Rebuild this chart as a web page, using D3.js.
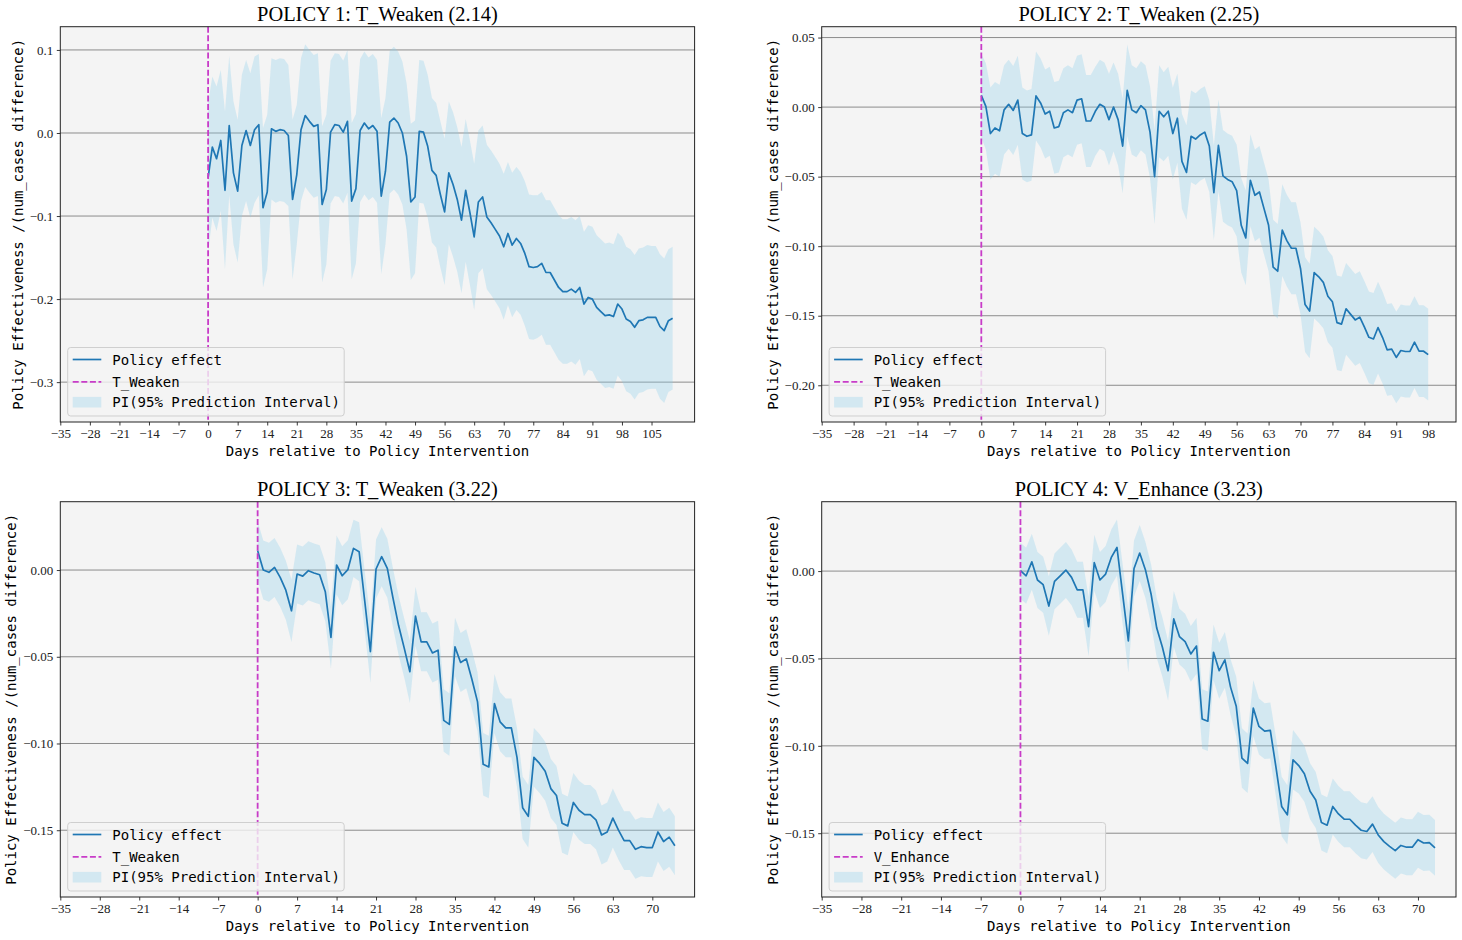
<!DOCTYPE html>
<html>
<head>
<meta charset="utf-8">
<script src="https://cdn.jsdelivr.net/npm/d3@7"></script>
<style>
  body { margin: 0; background: #ffffff; }
</style>
</head>
<body>
<div id="chart"></div>
<script>
// ---- data ----
const panelTitles = [
  'POLICY 1: T_Weaken (2.14)',
  'POLICY 2: T_Weaken (2.25)',
  'POLICY 3: T_Weaken (3.22)',
  'POLICY 4: V_Enhance (3.23)'
]
const policyNames = ['T_Weaken', 'T_Weaken', 'T_Weaken', 'V_Enhance']

// policy effect, one value per day starting at day 0
const p1Effect = [
  -0.054, -0.017, -0.031, -0.009, -0.069, 0.009, -0.048, -0.070, -0.015, 0.003,
  -0.015, 0.004, 0.010, -0.090, -0.071, 0.005, 0.002, 0.004, 0.003, -0.003,
  -0.080, -0.050, 0.004, 0.021, 0.014, 0.008, 0.010, -0.086, -0.068, 0.001,
  0.010, 0.009, 0.001, 0.014, -0.082, -0.067, 0.003, 0.012, 0.005, 0.009,
  0.002, -0.076, -0.046, 0.013, 0.018, 0.012, 0.000, -0.028, -0.083, -0.077,
  0.002, 0.001, -0.016, -0.045, -0.051, -0.074, -0.095, -0.048, -0.062, -0.080,
  -0.105, -0.069, -0.096, -0.125, -0.083, -0.077, -0.101, -0.108, -0.116, -0.124,
  -0.137, -0.121, -0.135, -0.127, -0.133, -0.145, -0.161, -0.162, -0.161, -0.157,
  -0.168, -0.168, -0.177, -0.186, -0.191, -0.191, -0.188, -0.192, -0.186, -0.206,
  -0.198, -0.200, -0.210, -0.215, -0.220, -0.219, -0.221, -0.206, -0.212, -0.224,
  -0.227, -0.234, -0.226, -0.225, -0.222, -0.222, -0.222, -0.233, -0.238, -0.226,
  -0.223
]
// half width of the 95% prediction interval
const p1Half = [
  0.090, 0.085, 0.087, 0.085, 0.095, 0.084, 0.086, 0.086, 0.085, 0.085, 0.087, 0.088, 0.085, 0.096, 0.093,
  0.085, 0.086, 0.086, 0.086, 0.085, 0.096, 0.084, 0.086, 0.086, 0.086, 0.086, 0.086, 0.094, 0.090,
  0.086, 0.086, 0.086, 0.086, 0.086, 0.094, 0.090, 0.086, 0.086, 0.086, 0.086, 0.086, 0.094, 0.088,
  0.086, 0.086, 0.086, 0.086, 0.088, 0.094, 0.092, 0.086, 0.086, 0.086, 0.087, 0.087, 0.088, 0.088,
  0.086, 0.087, 0.087, 0.088, 0.086, 0.087, 0.088, 0.086, 0.086, 0.087, 0.087, 0.087, 0.087, 0.088,
  0.086, 0.087, 0.086, 0.086, 0.087, 0.087, 0.087, 0.086, 0.086, 0.087, 0.087, 0.087, 0.087, 0.087,
  0.087, 0.087, 0.087, 0.086, 0.087, 0.087, 0.087, 0.087, 0.087, 0.087, 0.087, 0.087, 0.086, 0.087,
  0.087, 0.087, 0.087, 0.087, 0.087, 0.087, 0.086, 0.086, 0.087, 0.087, 0.086, 0.086
]

const p2Effect = [
  0.0084, 0.0005, -0.019, -0.015, -0.017, -0.002, 0.002, -0.0024, 0.005, -0.019,
  -0.021, -0.020, 0.008, 0.003, -0.005, -0.003, -0.015, -0.014, -0.004, -0.002,
  -0.004, 0.005, 0.006, -0.010, -0.010, -0.003, 0.002, 0.000, -0.009, 0.000,
  -0.009, -0.028, 0.012, -0.002, -0.004, 0.001, -0.002, -0.018, -0.050, -0.003,
  -0.007, -0.003, -0.019, -0.008, -0.039, -0.047, -0.021, -0.023, -0.020, -0.018,
  -0.028, -0.0615, -0.0275, -0.0495, -0.052, -0.0536, -0.060, -0.085, -0.094, -0.0526,
  -0.0634, -0.061, -0.073, -0.085, -0.115, -0.118, -0.0885, -0.096, -0.1015, -0.1015,
  -0.116, -0.142, -0.1466, -0.119, -0.122, -0.126, -0.136, -0.140, -0.155, -0.156,
  -0.145, -0.149, -0.153, -0.151, -0.158, -0.1655, -0.1667, -0.1585, -0.1657, -0.1745,
  -0.174, -0.180, -0.175, -0.1757, -0.1757, -0.169, -0.1755, -0.1755, -0.178
]
const p2Half = [
  0.030, 0.031, 0.033, 0.033, 0.033, 0.032, 0.032, 0.032, 0.032, 0.033,
  0.033, 0.033, 0.032, 0.032, 0.032, 0.032, 0.033, 0.033, 0.032, 0.032,
  0.032, 0.032, 0.032, 0.033, 0.033, 0.032, 0.032, 0.032, 0.033, 0.032,
  0.033, 0.034, 0.033, 0.032, 0.032, 0.032, 0.032, 0.033, 0.034, 0.033,
  0.032, 0.032, 0.033, 0.032, 0.034, 0.034, 0.033, 0.033, 0.033, 0.033,
  0.033, 0.034, 0.033, 0.033, 0.033, 0.033, 0.033, 0.034, 0.034, 0.033,
  0.033, 0.033, 0.033, 0.033, 0.034, 0.034, 0.033, 0.033, 0.033, 0.033,
  0.033, 0.034, 0.034, 0.033, 0.033, 0.033, 0.033, 0.033, 0.034, 0.034,
  0.033, 0.033, 0.033, 0.033, 0.033, 0.033, 0.033, 0.033, 0.033, 0.033,
  0.033, 0.033, 0.033, 0.033, 0.033, 0.033, 0.033, 0.033, 0.033
]

const p3Effect = [
  0.0112, 0.000, -0.0013, 0.0015, -0.0042, -0.0116, -0.0235, -0.0023, -0.0035, -0.0004,
  -0.0017, -0.0027, -0.0125, -0.0389, 0.0029, -0.0033, 0.0002, 0.0125, 0.0106, -0.018,
  -0.047, 0.0006, 0.0077, 0.001, -0.016, -0.032, -0.045, -0.0586, -0.0266, -0.0414,
  -0.0414, -0.0478, -0.0462, -0.0867, -0.089, -0.0443, -0.0533, -0.0512, -0.063, -0.076,
  -0.112, -0.1135, -0.077, -0.0875, -0.091, -0.091, -0.108, -0.137, -0.142, -0.108,
  -0.1115, -0.116, -0.126, -0.130, -0.146, -0.1475, -0.134, -0.1385, -0.141, -0.141,
  -0.144, -0.1527, -0.151, -0.143, -0.150, -0.156, -0.156, -0.161, -0.1595, -0.160,
  -0.160, -0.151, -0.1565, -0.154, -0.159
]
const p3Half = [
  0.017, 0.017, 0.017, 0.017, 0.017, 0.017, 0.018, 0.017, 0.017, 0.017,
  0.017, 0.017, 0.017, 0.018, 0.017, 0.017, 0.017, 0.0165, 0.017, 0.017,
  0.018, 0.017, 0.017, 0.017, 0.017, 0.017, 0.017, 0.018, 0.017, 0.017,
  0.017, 0.017, 0.017, 0.018, 0.018, 0.017, 0.017, 0.017, 0.017, 0.017,
  0.018, 0.018, 0.017, 0.017, 0.017, 0.017, 0.017, 0.018, 0.018, 0.017,
  0.017, 0.017, 0.017, 0.017, 0.017, 0.017, 0.017, 0.017, 0.017, 0.017,
  0.017, 0.017, 0.017, 0.017, 0.017, 0.017, 0.017, 0.017, 0.017, 0.017,
  0.017, 0.017, 0.017, 0.017, 0.017
]

const p4Effect = [
  0.0002, -0.0027, 0.0053, -0.0051, -0.0078, -0.020, -0.0059, -0.0027, 0.0006, -0.0036,
  -0.0107, -0.0107, -0.0318, 0.0048, -0.0051, -0.0017, 0.0078, 0.0135, -0.0133, -0.040,
  0.0015, 0.0103, 0.0008, -0.0131, -0.0326, -0.0436, -0.057, -0.0274, -0.0375, -0.0404,
  -0.0474, -0.0429, -0.0846, -0.0859, -0.0465, -0.057, -0.0508, -0.0664, -0.0774, -0.107,
  -0.110, -0.0784, -0.0889, -0.0916, -0.0912, -0.1123, -0.1347, -0.1395, -0.108, -0.1113,
  -0.116, -0.126, -0.131, -0.1439, -0.1454, -0.1347, -0.139, -0.142, -0.142, -0.1454,
  -0.1483, -0.149, -0.1448, -0.151, -0.1548, -0.1575, -0.160, -0.157, -0.158, -0.158,
  -0.1537, -0.1556, -0.1554, -0.1584
]
const p4Half = [
  0.016, 0.016, 0.016, 0.016, 0.016, 0.017, 0.016, 0.016, 0.016, 0.016,
  0.016, 0.016, 0.017, 0.016, 0.016, 0.016, 0.016, 0.016, 0.017, 0.018,
  0.016, 0.016, 0.016, 0.017, 0.017, 0.017, 0.017, 0.016, 0.016, 0.016,
  0.016, 0.016, 0.017, 0.017, 0.016, 0.016, 0.016, 0.016, 0.017, 0.017,
  0.017, 0.016, 0.016, 0.016, 0.016, 0.017, 0.017, 0.017, 0.017, 0.016,
  0.016, 0.016, 0.016, 0.016, 0.016, 0.016, 0.016, 0.016, 0.016, 0.016,
  0.016, 0.016, 0.016, 0.016, 0.016, 0.016, 0.016, 0.016, 0.016, 0.016,
  0.016, 0.016, 0.016, 0.016
]

// axis limits and tick labels
const xMinDay = -35
const xTickStep = 7
const xMaxDays = [115.2, 104.1, 77.5, 76.7]
const yLimits = [[-0.348, 0.128], [-0.2264, 0.0578], [-0.1885, 0.0394], [-0.1865, 0.0397]]
const p1YTicks = [-0.3, -0.2, -0.1, 0.0, 0.1]
const p2YTicks = [-0.20, -0.15, -0.10, -0.05, 0.00, 0.05]
const p3YTicks = [-0.15, -0.10, -0.05, 0.00]
const p4YTicks = [-0.15, -0.10, -0.05, 0.00]
const yTickFormats = ['.1f', '.2f', '.2f', '.2f']

const legendLabels = ['Policy effect', null, 'PI(95% Prediction Interval)']

// ---- layout ----
const W = 1462
const H = 940
const colX = [60.3, 821.7]
const rowY = [26.7, 501.7]
const plotW = 634.3
const plotH = 395.3

const lineColor = '#1f77b4'
const vlineColor = '#c83cc8'
const bandColor = 'skyblue'
const serif = '"Liberation Serif", "Times New Roman", serif'
const mono = '"DejaVu Sans Mono", monospace'

const svg = d3.select('#chart')
  .append('svg')
  .attr('width', W)
  .attr('height', H)

const panels = [
  { effect: p1Effect, half: p1Half, yTicks: p1YTicks },
  { effect: p2Effect, half: p2Half, yTicks: p2YTicks },
  { effect: p3Effect, half: p3Half, yTicks: p3YTicks },
  { effect: p4Effect, half: p4Half, yTicks: p4YTicks }
].map((p, i) => ({
  ...p,
  title: panelTitles[i],
  policy: policyNames[i],
  xMax: xMaxDays[i],
  yLim: yLimits[i],
  fmt: yTickFormats[i],
  left: colX[i % 2],
  top: rowY[Math.floor(i / 2)]
}))

panels.forEach(p => drawPanel(p))

function drawPanel(p) {
  const g = svg.append('g')
    .attr('class', 'panel')
    .attr('transform', `translate(${p.left}, ${p.top})`)

  const x = d3.scaleLinear().domain([xMinDay, p.xMax]).range([0, plotW])
  const y = d3.scaleLinear().domain(p.yLim).range([plotH, 0])

  const rows = p.effect.map((v, day) => ({
    day,
    value: v,
    lo: v - p.half[day],
    hi: v + p.half[day]
  }))
  const lastDay = rows.length - 1

  // background
  g.append('rect')
    .attr('width', plotW)
    .attr('height', plotH)
    .attr('fill', '#f4f4f4')

  // horizontal grid
  g.append('g')
    .selectAll('line.grid')
    .data(p.yTicks)
    .enter()
    .append('line')
    .attr('class', 'grid')
    .attr('x1', 0)
    .attr('x2', plotW)
    .attr('y1', d => y(d))
    .attr('y2', d => y(d))
    .attr('stroke', '#8c8c8c')
    .attr('stroke-width', 1)

  // prediction interval
  const area = d3.area()
    .x(d => x(d.day))
    .y0(d => y(d.lo))
    .y1(d => y(d.hi))
  g.append('path')
    .datum(rows)
    .attr('d', area)
    .attr('fill', bandColor)
    .attr('fill-opacity', 0.3)

  // policy effect line
  const line = d3.line()
    .x(d => x(d.day))
    .y(d => y(d.value))
  g.append('path')
    .datum(rows)
    .attr('d', line)
    .attr('fill', 'none')
    .attr('stroke', lineColor)
    .attr('stroke-width', 1.7)
    .attr('stroke-linejoin', 'round')

  // intervention day
  g.append('line')
    .attr('x1', x(0))
    .attr('x2', x(0))
    .attr('y1', 0)
    .attr('y2', plotH)
    .attr('stroke', vlineColor)
    .attr('stroke-width', 1.8)
    .attr('stroke-dasharray', '6,2.6')

  // axes (ticks every week, up to the last day with data)
  const xAxis = d3.axisBottom(x)
    .tickValues(d3.range(xMinDay, lastDay + 1, xTickStep))
    .tickFormat(d3.format('d'))
    .tickSize(3.5)
    .tickPadding(3.5)
  const gx = g.append('g')
    .attr('transform', `translate(0, ${plotH})`)
    .call(xAxis)

  const yAxis = d3.axisLeft(y)
    .tickValues(p.yTicks)
    .tickFormat(d3.format(p.fmt))
    .tickSize(3.5)
    .tickPadding(3.5)
  const gy = g.append('g').call(yAxis)

  ;[gx, gy].forEach(a => {
    a.select('.domain').remove()
    a.selectAll('.tick line').attr('stroke', '#222').attr('stroke-width', 0.9)
    a.selectAll('.tick text')
      .attr('font-family', serif)
      .attr('font-size', '13px')
      .attr('fill', '#222')
  })

  // frame
  g.append('rect')
    .attr('width', plotW)
    .attr('height', plotH)
    .attr('fill', 'none')
    .attr('stroke', '#222')
    .attr('stroke-width', 1)

  // title
  g.append('text')
    .attr('x', plotW / 2)
    .attr('y', -6)
    .attr('text-anchor', 'middle')
    .attr('font-family', serif)
    .attr('font-size', '20.4px')
    .attr('fill', '#000')
    .text(p.title)

  // axis labels
  g.append('text')
    .attr('x', plotW / 2)
    .attr('y', plotH + 29)
    .attr('text-anchor', 'middle')
    .attr('dominant-baseline', 'central')
    .attr('font-family', mono)
    .attr('font-size', '14px')
    .attr('fill', '#000')
    .text('Days relative to Policy Intervention')

  const tickBox = gy.node().getBBox()
  const labelX = tickBox.x - 12
  g.append('text')
    .attr('transform', `translate(${labelX}, ${plotH / 2}) rotate(-90)`)
    .attr('text-anchor', 'middle')
    .attr('dominant-baseline', 'central')
    .attr('font-family', mono)
    .attr('font-size', '14px')
    .attr('fill', '#000')
    .text('Policy Effectiveness /(num_cases difference)')

  drawLegend(g, p)
}

function drawLegend(g, p) {
  const boxW = 276.5
  const boxH = 68.5
  const lg = g.append('g')
    .attr('class', 'legend')
    .attr('transform', `translate(7.4, ${plotH - 6 - boxH})`)

  lg.append('rect')
    .attr('width', boxW)
    .attr('height', boxH)
    .attr('rx', 3)
    .attr('ry', 3)
    .attr('fill', '#f4f4f4')
    .attr('fill-opacity', 0.8)
    .attr('stroke', '#cfcfcf')
    .attr('stroke-width', 1)

  const labels = [legendLabels[0], p.policy, legendLabels[2]]
  const rowYs = [12, 34.4, 54.7]

  labels.forEach((label, i) => {
    const ry = rowYs[i]
    if (i === 0) {
      lg.append('line')
        .attr('x1', 5).attr('x2', 33.6)
        .attr('y1', ry).attr('y2', ry)
        .attr('stroke', lineColor)
        .attr('stroke-width', 1.7)
    } else if (i === 1) {
      lg.append('line')
        .attr('x1', 5).attr('x2', 33.6)
        .attr('y1', ry).attr('y2', ry)
        .attr('stroke', vlineColor)
        .attr('stroke-width', 1.8)
        .attr('stroke-dasharray', '6,2.6')
    } else {
      lg.append('rect')
        .attr('x', 5)
        .attr('y', ry - 5.3)
        .attr('width', 28.6)
        .attr('height', 10.6)
        .attr('fill', bandColor)
        .attr('fill-opacity', 0.3)
    }
    lg.append('text')
      .attr('x', 44.6)
      .attr('y', ry)
      .attr('dominant-baseline', 'central')
      .attr('font-family', mono)
      .attr('font-size', '14px')
      .attr('fill', '#000')
      .text(label)
  })
}
</script>
</body>
</html>
